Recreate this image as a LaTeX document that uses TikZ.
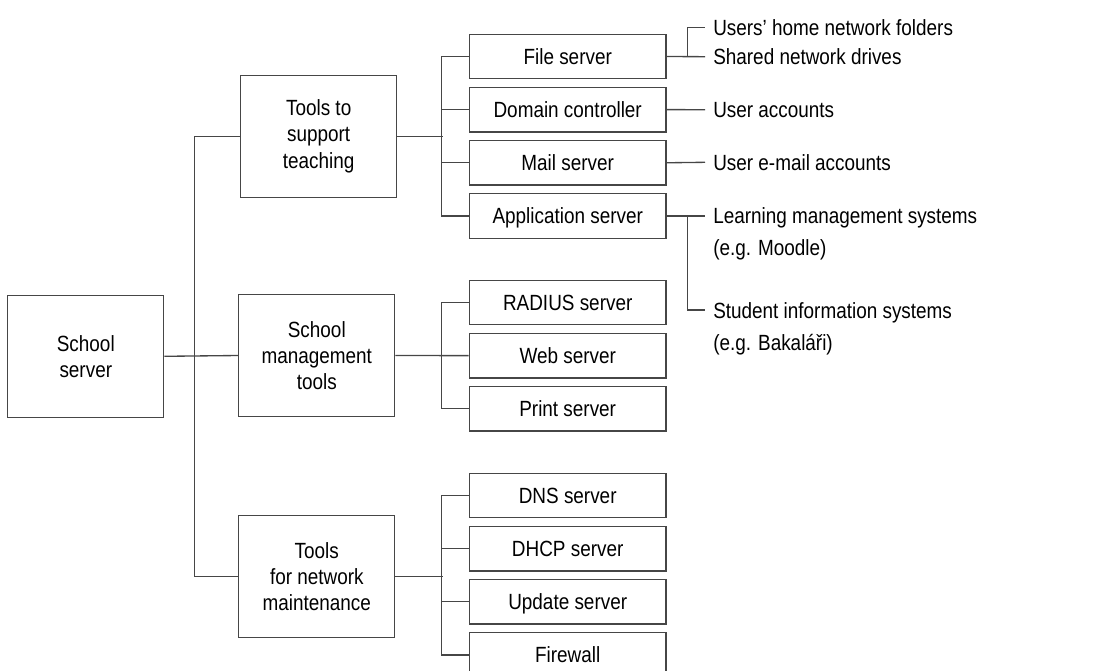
\documentclass[tikz,border=0pt]{standalone}
\usepackage{fontspec}
\setmainfont[FakeStretch=0.86]{Liberation Sans}
\usepackage{tikz}
\usetikzlibrary{positioning,calc}
\definecolor{linegray}{RGB}{70,70,70}

\begin{document}
\begin{tikzpicture}[
    x=0.75pt, y=-0.75pt,
    node distance=5.45pt,
    every node/.style={font=\fontsize{16.5}{19.7}\selectfont},
    link/.style={draw=linegray, line width=1pt},
    group/.style={rectangle, draw=linegray, line width=1pt, align=center, minimum width=117pt, minimum height=91.5pt},
    leaf/.style={rectangle, draw=linegray, line width=1pt, align=center, inner sep=0pt, text height=15pt, text depth=3.2pt, minimum width=147.5pt, minimum height=33.4pt},
    note/.style={anchor=west, inner xsep=6pt, inner ysep=0pt, align=left, font=\fontsize{16.5}{24}\selectfont}
]
\useasboundingbox (0,0) rectangle (1111,671);

\node [group] (server) at (85.8,356.3) {School\\server};
\node [group] (teach) at (318.7,136.2) {Tools to\\support\\teaching};
\node [group] (manage) at (316.8,355.5) {School\\management\\tools};
\node [group] (maint) at (316.8,576.8) {Tools\\for network\\maintenance};

\node [leaf] (file) at (567.7,56.5) {File server};
\node [leaf, below=of file] (domain) {Domain controller};
\node [leaf, below=of domain] (mail) {Mail server};
\node [leaf, below=of mail] (app) {Application server};

\node [leaf] (radius) at (567.7,302.5) {RADIUS server};
\node [leaf, below=of radius] (web) {Web server};
\node [leaf, below=of web] (print) {Print server};

\node [leaf] (dns) at (567.7,495.5) {DNS server};
\node [leaf, below=of dns] (dhcp) {DHCP server};
\node [leaf, below=of dhcp] (update) {Update server};
\node [leaf, below=of update] (firewall) {Firewall};

\node [note] (homefolders) at (705,27.3) {Users’ home network folders};
\node [note] (shareddrives) at (705,56.7) {Shared network drives};
\node [note] (useraccounts) at (705,109.7) {User accounts};
\node [note] (emailaccounts) at (705,162.3) {User e-mail accounts};
\node [note, anchor=north west] (lms) at (705,207.6) {Learning management systems\\(e.g. Moodle)};
\node [note, anchor=north west] (sis) at (705,302) {Student information systems\\(e.g. Bakaláři)};

\draw [link] (server.east) -- (manage.west);
\draw [link] (teach.west) -- ++(-45.4,0) |- (maint.west);

\draw [link] (teach.east) -- ++(45.3,0);
\draw [link] (file.west) -- ++(-27.3,0) |- (app.west);
\foreach \n in {domain,mail}
    \draw [link] (\n.west) -- ++(-27.3,0);

\draw [link] (manage.east) -- (web.west);
\draw [link] (radius.west) -- ++(-27.3,0) |- (print.west);

\draw [link] (maint.east) -- ++(47.3,0);
\draw [link] (dns.west) -- ++(-27.3,0) |- (firewall.west);
\foreach \n in {dhcp,update}
    \draw [link] (\n.west) -- ++(-27.3,0);

\draw [link] (file.east) -- ++(20.7,0) |- (homefolders.west);
\draw [link] (file.east) -- (shareddrives.west);
\draw [link] (domain.east) -- (useraccounts.west);
\draw [link] (mail.east) -- (emailaccounts.west);
\draw [link] (app.east) -- (app.east -| lms.west);
\draw [link] (app.east) -- ++(20.7,0) |- ([yshift=-6pt]sis.north west);

\end{tikzpicture}
\end{document}
